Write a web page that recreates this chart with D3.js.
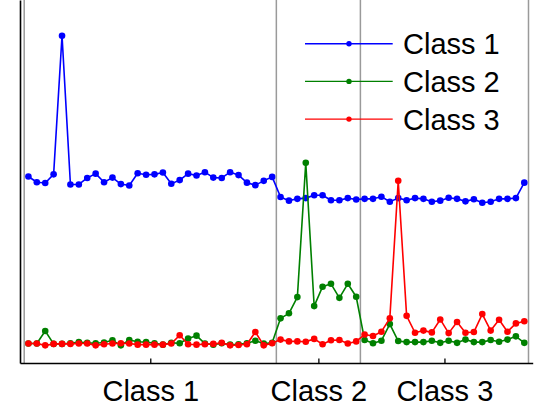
<!DOCTYPE html>
<html>
<head>
<meta charset="utf-8">
<script src="https://cdn.jsdelivr.net/npm/d3@7/dist/d3.min.js"></script>
<style>
  html, body { margin: 0; padding: 0; background: #fff; }
  svg { display: block; }
  text { font-family: "Liberation Sans", Arial, Helvetica, sans-serif; }
</style>
</head>
<body>
<svg id="chart" width="538" height="407"></svg>
<script>
// Class names (legend entries and x-axis group labels)
const classNames = ["Class 1", "Class 2", "Class 3"];
// Number of samples belonging to each class, in order along the x axis
const classSizes = [30, 10, 20];

// Per-sample scores for each class
const class1Scores = [
  0.518, 0.502, 0.500, 0.524, 0.909, 0.496, 0.496, 0.514, 0.526, 0.502,
  0.515, 0.497, 0.493, 0.527, 0.523, 0.524, 0.529, 0.498, 0.508, 0.526,
  0.521, 0.530, 0.515, 0.514, 0.530, 0.522, 0.501, 0.494, 0.506, 0.517,
  0.461, 0.451, 0.456, 0.458, 0.466, 0.466, 0.452, 0.452, 0.458, 0.454,
  0.456, 0.456, 0.462, 0.448, 0.458, 0.452, 0.458, 0.456, 0.448, 0.451,
  0.459, 0.456, 0.449, 0.455, 0.445, 0.448, 0.456, 0.456, 0.458, 0.501
];
const class2Scores = [
  0.054, 0.054, 0.089, 0.053, 0.053, 0.055, 0.058, 0.056, 0.055, 0.057,
  0.063, 0.049, 0.064, 0.059, 0.058, 0.055, 0.051, 0.056, 0.055, 0.068,
  0.076, 0.054, 0.051, 0.055, 0.051, 0.052, 0.055, 0.062, 0.054, 0.056,
  0.124, 0.138, 0.183, 0.556, 0.158, 0.212, 0.220, 0.181, 0.220, 0.184,
  0.064, 0.055, 0.062, 0.108, 0.061, 0.058, 0.058, 0.058, 0.062, 0.056,
  0.062, 0.056, 0.065, 0.058, 0.058, 0.064, 0.059, 0.065, 0.074, 0.056
];
const class3Scores = [
  0.054, 0.054, 0.049, 0.053, 0.053, 0.053, 0.054, 0.054, 0.049, 0.052,
  0.054, 0.055, 0.054, 0.051, 0.051, 0.051, 0.051, 0.054, 0.077, 0.052,
  0.051, 0.052, 0.053, 0.056, 0.049, 0.050, 0.052, 0.086, 0.049, 0.055,
  0.065, 0.060, 0.060, 0.059, 0.067, 0.052, 0.063, 0.064, 0.054, 0.060,
  0.079, 0.075, 0.087, 0.124, 0.506, 0.131, 0.084, 0.090, 0.085, 0.121,
  0.083, 0.114, 0.084, 0.086, 0.136, 0.090, 0.120, 0.087, 0.110, 0.116
];
const seriesColors = ["#0000ff", "#008000", "#ff0000"];

const svg = d3.select("#chart");
const nSamples = class1Scores.length;

const x = d3.scaleLinear().domain([-1, nSamples]).range([20, 532.7]);
const y = d3.scaleLinear().domain([0, 1]).range([363, 3]);
const yTop = 0;

// Class boundaries (between groups) and group centres for the tick labels
const bounds = [-0.5];
classSizes.forEach(n => bounds.push(bounds[bounds.length - 1] + n));
const centers = classSizes.map((n, i) => bounds[i] + n / 2);

// Grey separator lines between classes
svg.append("g").selectAll("line").data(bounds).join("line")
  .attr("x1", d => x(d)).attr("x2", d => x(d))
  .attr("y1", yTop).attr("y2", y(0))
  .attr("stroke", "#9a9a9a").attr("stroke-width", 1.5);

// Data series
const series = [class1Scores, class2Scores, class3Scores];
const line = d3.line().x((d, i) => x(i)).y(d => y(d));
series.forEach((vals, k) => {
  const g = svg.append("g");
  g.append("path").datum(vals)
    .attr("d", line).attr("fill", "none")
    .attr("stroke", seriesColors[k]).attr("stroke-width", 1.6)
    .attr("stroke-linejoin", "round");
  g.selectAll("circle").data(vals).join("circle")
    .attr("cx", (d, i) => x(i)).attr("cy", d => y(d))
    .attr("r", 3.3).attr("fill", seriesColors[k]);
});

// Bottom axis with class labels at group centres
const xAxis = d3.axisBottom(x)
  .tickValues(centers)
  .tickFormat((d, i) => classNames[i])
  .tickSizeInner(-4.5)
  .tickSizeOuter(0)
  .tickPadding(17);
const gx = svg.append("g").attr("transform", `translate(0,${y(0)})`).call(xAxis);
gx.select(".domain").attr("stroke", "#000").attr("stroke-width", 1.6);
gx.selectAll(".tick line").attr("stroke", "#000").attr("stroke-width", 1.3);
gx.selectAll(".tick text").attr("font-size", 29).attr("fill", "#000")
  .attr("font-family", "'Liberation Sans', Arial, sans-serif");

// Left axis line (no ticks)
const yAxisScale = y.copy().domain([0, y.invert(yTop)]).range([y(0), yTop]);
const gy = svg.append("g").attr("transform", `translate(${x(-1)},0)`)
  .call(d3.axisLeft(yAxisScale).tickValues([]).tickSizeOuter(0));
gy.select(".domain").attr("stroke", "#000").attr("stroke-width", 1.6);

// Legend
const legend = svg.append("g").attr("transform", "translate(305,43.7)");
classNames.forEach((name, k) => {
  const row = legend.append("g").attr("transform", `translate(0,${k * 37.7})`);
  row.append("line").attr("x1", 0).attr("x2", 87.7).attr("y1", 0).attr("y2", 0)
    .attr("stroke", seriesColors[k]).attr("stroke-width", 1.4);
  row.append("circle").attr("cx", 44).attr("cy", 0).attr("r", 2.7).attr("fill", seriesColors[k]);
  row.append("text").attr("x", 98).attr("y", 10.6)
    .attr("font-size", 29).attr("fill", "#000").text(name);
});
</script>
</body>
</html>
